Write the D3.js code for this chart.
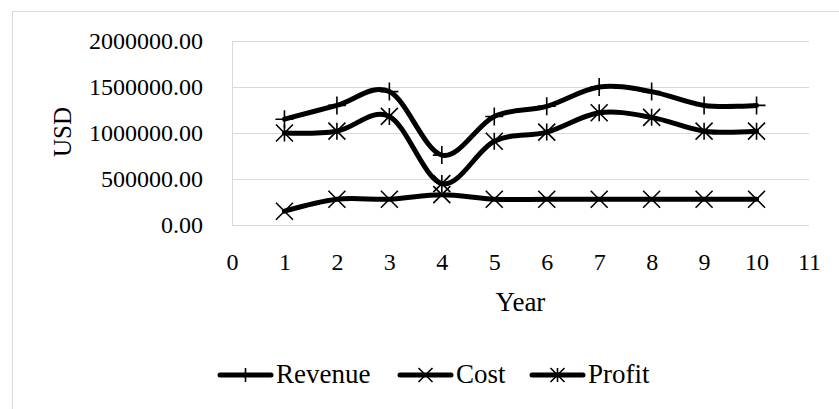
<!DOCTYPE html>
<html>
<head>
<meta charset="utf-8">
<script src="https://cdn.jsdelivr.net/npm/d3@7"></script>
<style>
  html, body { margin: 0; padding: 0; background: #fff; }
  svg { display: block; }
  text { font-family: "Liberation Serif", "Times New Roman", serif; fill: #000; }
</style>
</head>
<body>
<svg id="chart" width="839" height="409"></svg>
<script>
// ---- data ----
const years = [1, 2, 3, 4, 5, 6, 7, 8, 9, 10];
const revenue = [1150000, 1300000, 1450000, 760000, 1180000, 1290000, 1500000, 1450000, 1300000, 1300000];
const cost = [150000, 280000, 280000, 330000, 280000, 280000, 280000, 280000, 280000, 280000];
const profit = [1000000, 1020000, 1180000, 450000, 910000, 1010000, 1220000, 1170000, 1020000, 1020000];
const seriesNames = ["Revenue", "Cost", "Profit"];
const xTicks = [0, 1, 2, 3, 4, 5, 6, 7, 8, 9, 10, 11];
const yTicks = [0, 500000, 1000000, 1500000, 2000000];
const xTitle = "Year";
const yTitle = "USD";

// ---- layout ----
const svg = d3.select("#chart");
const plot = { left: 232, right: 809, top: 41, bottom: 225 };
const x = d3.scaleLinear().domain([0, 11]).range([plot.left, plot.right]);
const y = d3.scaleLinear().domain([0, 2000000]).range([plot.bottom, plot.top]);
const grid = "#d9d9d9";

// outer chart border (clipped at right/bottom)
svg.append("rect")
  .attr("x", 12.5).attr("y", 11.5)
  .attr("width", 900).attr("height", 500)
  .attr("fill", "none").attr("stroke", grid).attr("stroke-width", 1);

// gridlines
svg.append("g").selectAll("line").data(yTicks).join("line")
  .attr("x1", plot.left).attr("x2", plot.right)
  .attr("y1", d => Math.round(y(d)) + 0.5).attr("y2", d => Math.round(y(d)) + 0.5)
  .attr("stroke", grid).attr("stroke-width", 1);

// y axis line
svg.append("line")
  .attr("x1", plot.left + 0.5).attr("x2", plot.left + 0.5)
  .attr("y1", plot.top).attr("y2", plot.bottom + 0.5)
  .attr("stroke", grid).attr("stroke-width", 1);

// y tick labels
const yAxis = d3.axisLeft(y).tickValues(yTicks).tickFormat(d3.format(".2f")).tickSize(0).tickPadding(0);
const yg = svg.append("g").attr("transform", "translate(203,0)").call(yAxis);
yg.select(".domain").remove();
yg.selectAll("text").attr("font-size", 24).attr("font-family", "Liberation Serif").attr("dy", "0.32em").attr("fill", "#000");

// x tick labels
const xAxis = d3.axisBottom(x).tickValues(xTicks).tickFormat(d3.format("d")).tickSize(0).tickPadding(0);
const xg = svg.append("g").attr("transform", "translate(0,270)").call(xAxis);
xg.select(".domain").remove();
xg.selectAll("text").attr("font-size", 24).attr("font-family", "Liberation Serif").attr("dy", 0).attr("fill", "#000");

// axis titles
svg.append("text").attr("x", (plot.left + plot.right) / 2).attr("y", 311)
  .attr("text-anchor", "middle").attr("font-size", 27).text(xTitle);
svg.append("text").attr("transform", "translate(71,132) rotate(-90)")
  .attr("text-anchor", "middle").attr("font-size", 25).text(yTitle);

// marker shapes
function markerPath(type, cx, cy, r) {
  const p = d3.path();
  if (type === "plus" || type === "star") {
    p.moveTo(cx, cy - r); p.lineTo(cx, cy + r);
  }
  if (type === "plus") {
    p.moveTo(cx - r, cy); p.lineTo(cx + r, cy);
  }
  if (type === "cross" || type === "star") {
    p.moveTo(cx - r, cy - r); p.lineTo(cx + r, cy + r);
    p.moveTo(cx + r, cy - r); p.lineTo(cx - r, cy + r);
  }
  return p.toString();
}

const series = [
  { name: seriesNames[0], values: revenue, marker: "plus" },
  { name: seriesNames[1], values: cost, marker: "cross" },
  { name: seriesNames[2], values: profit, marker: "star" }
];

const line = d3.line()
  .x((d, i) => x(years[i]))
  .y(d => y(d))
  .curve(d3.curveCatmullRom.alpha(0));

series.forEach(s => {
  const g = svg.append("g");
  g.append("path").attr("d", line(s.values))
    .attr("fill", "none").attr("stroke", "#000").attr("stroke-width", 5)
    .attr("stroke-linecap", "round").attr("stroke-linejoin", "round");
  g.selectAll("path.m").data(s.values).join("path").attr("class", "m")
    .attr("d", (d, i) => markerPath(s.marker, x(years[i]), y(d), s.marker === "plus" ? 9 : 8.5))
    .attr("fill", "none").attr("stroke", "#000").attr("stroke-width", 1.6);
});

// legend
const legendY = 375;
const legendStarts = [218, 398, 530];
series.forEach((s, i) => {
  const x0 = legendStarts[i];
  const g = svg.append("g");
  g.append("line").attr("x1", x0 + 2).attr("x2", x0 + 53)
    .attr("y1", legendY).attr("y2", legendY)
    .attr("stroke", "#000").attr("stroke-width", 5).attr("stroke-linecap", "round");
  g.append("path").attr("d", markerPath(s.marker, x0 + 27.5, legendY, 7))
    .attr("fill", "none").attr("stroke", "#000").attr("stroke-width", 1.6);
  g.append("text").attr("x", x0 + 58).attr("y", legendY + 8)
    .attr("font-size", 27).text(s.name);
});
</script>
</body>
</html>
